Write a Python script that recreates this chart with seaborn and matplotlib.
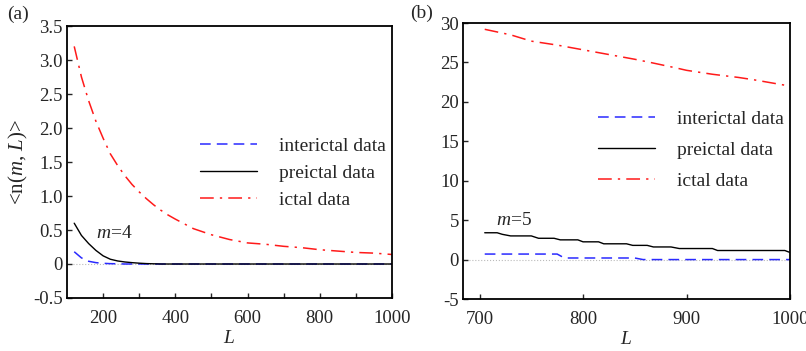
import numpy as np
import pandas as pd
import matplotlib
matplotlib.use("Agg")
import matplotlib.pyplot as plt
import seaborn as sns

# ---------------- data ----------------
# panel (a), m = 4
L_a = [120, 140, 160, 180, 200, 220, 240, 260, 280, 300, 320, 340, 360, 380, 400,
       450, 500, 550, 600, 650, 700, 750, 800, 850, 900, 950, 1000]
ictal_a = [3.20, 2.75, 2.40, 2.10, 1.85, 1.62, 1.45, 1.30, 1.17, 1.06, 0.96, 0.87, 0.79, 0.72, 0.66,
           0.52, 0.43, 0.36, 0.31, 0.29, 0.26, 0.24, 0.21, 0.19, 0.17, 0.16, 0.14]
preictal_a = [0.60, 0.42, 0.30, 0.20, 0.12, 0.07, 0.045, 0.03, 0.02, 0.012, 0.006, 0.003, 0.0, 0.0, 0.0,
              0.0, 0.0, 0.0, 0.0, 0.0, 0.0, 0.0, 0.0, 0.0, 0.0, 0.0, 0.0]
interictal_a = [0.18, 0.09, 0.04, 0.02, 0.01, 0.005, 0.003, 0.0, 0.0, 0.0, 0.0, 0.0, 0.0, 0.0, 0.0,
                0.0, 0.0, 0.0, 0.0, 0.0, 0.0, 0.0, 0.0, 0.0, 0.0, 0.0, 0.0]

# panel (b), m = 5
L_b_ictal = [705, 730, 750, 775, 800, 825, 850, 865, 890, 900, 925, 950, 965, 1000]
ictal_b = [29.2, 28.5, 27.7, 27.2, 26.6, 26.0, 25.4, 25.0, 24.3, 24.0, 23.5, 23.1, 22.8, 22.0]
L_b_pre = [705, 717, 722, 730, 750, 757, 772, 778, 795, 800, 815, 820, 842, 848, 862, 868,
           885, 893, 925, 930, 995, 1000]
preictal_b = [3.4, 3.4, 3.2, 3.0, 3.0, 2.7, 2.7, 2.5, 2.5, 2.25, 2.25, 2.0, 2.0, 1.8, 1.8, 1.6,
              1.6, 1.4, 1.4, 1.15, 1.15, 0.9]
L_b_inter = [705, 775, 782, 850, 858, 1000]
interictal_b = [0.7, 0.7, 0.2, 0.2, 0.0, 0.0]

labels = ["interictal data", "preictal data", "ictal data"]
yticks_a = [-0.5, 0, 0.5, 1.0, 1.5, 2.0, 2.5, 3.0, 3.5]
yticklabels_a = ["-0.5", "0", "0.5", "1.0", "1.5", "2.0", "2.5", "3.0", "3.5"]
xticks_a = [200, 400, 600, 800, 1000]
yticks_b = [-5, 0, 5, 10, 15, 20, 25, 30]
xticks_b = [700, 800, 900, 1000]

# ---------------- style ----------------
sns.set_style("ticks")
plt.rcParams["font.family"] = ["Liberation Serif", "DejaVu Serif"]
plt.rcParams["mathtext.fontset"] = "custom"
plt.rcParams["mathtext.rm"] = "Liberation Serif"
plt.rcParams["mathtext.it"] = "Liberation Serif:italic"
plt.rcParams["axes.unicode_minus"] = False

FS = 14
TFS = 13.5
blue = "#2a2aff"
red = "#ff1a1a"
dash_b = (0, (7, 4))
dash_r = (0, (9, 4, 1.5, 4))

fig = plt.figure(figsize=(8.06, 3.51), dpi=100)
axa = fig.add_axes([67/806, 1-298/351, 325/806, 272/351])
axb = fig.add_axes([463/806, 1-299/351, 327/806, 276/351])

def style_axes(ax):
    for s in ax.spines.values():
        s.set_visible(True)
        s.set_linewidth(1.3)
        s.set_color("black")
    ax.tick_params(direction="in", length=3.5, width=1, labelsize=TFS, top=False, right=False)
    ax.tick_params(axis="x", pad=8.5)
    ax.tick_params(axis="y", pad=3)
    ax.tick_params(which="minor", direction="in", length=3.5, width=1)

# ---- panel (a)
da = pd.DataFrame({"L": L_a, "inter": interictal_a, "pre": preictal_a, "ictal": ictal_a})
axa.axhline(0, color="#bbbbbb", lw=0.8, ls=":", zorder=0)
sns.lineplot(data=da, x="L", y="inter", ax=axa, color=blue, lw=1.1, linestyle=dash_b, label=labels[0])
sns.lineplot(data=da, x="L", y="pre", ax=axa, color="black", lw=1.0, label=labels[1])
sns.lineplot(data=da, x="L", y="ictal", ax=axa, color=red, lw=1.1, linestyle=dash_r, label=labels[2])
axa.set_xlim(100, 1000)
axa.set_ylim(-0.5, 3.5)
axa.set_xticks(xticks_a)
axa.set_xticks([300, 500, 700, 900], minor=True)
axa.set_yticks(yticks_a)
axa.set_yticklabels(yticklabels_a)
style_axes(axa)
axa.set_xlabel(r"$\mathit{L}$", fontsize=FS, labelpad=2.5)
axa.set_ylabel(r"<n($\mathit{m}$, $\mathit{L}$)>", fontsize=15, labelpad=2)
axa.text(180, 0.45, r"$\mathit{m}$=4", fontsize=FS, ha="left", va="center")
axa.legend(loc="upper left", bbox_to_anchor=(200/806, 1-137/351), bbox_transform=fig.transFigure,
           frameon=False, fontsize=FS, handlelength=2.95, handletextpad=1.1, labelspacing=0.5,
           borderpad=0, borderaxespad=0)

# ---- panel (b)
axb.axhline(0, color="#bbbbbb", lw=0.8, ls=":", zorder=0)
sns.lineplot(x=L_b_inter, y=interictal_b, ax=axb, color=blue, lw=1.1, linestyle=dash_b, label=labels[0])
sns.lineplot(x=L_b_pre, y=preictal_b, ax=axb, color="black", lw=1.0, label=labels[1])
sns.lineplot(x=L_b_ictal, y=ictal_b, ax=axb, color=red, lw=1.1, linestyle=dash_r, label=labels[2])
axb.set_xlim(684, 1000)
axb.set_ylim(-5, 30)
axb.set_xticks(xticks_b)
axb.set_yticks(yticks_b)
style_axes(axb)
axb.set_xlabel(r"$\mathit{L}$", fontsize=FS, labelpad=2.5)
axb.set_ylabel("")
axb.text(716, 4.9, r"$\mathit{m}$=5", fontsize=FS, ha="left", va="center")
axb.legend(loc="upper left", bbox_to_anchor=(598/806, 1-110/351), bbox_transform=fig.transFigure,
           frameon=False, fontsize=FS, handlelength=2.95, handletextpad=1.1, labelspacing=0.7,
           borderpad=0, borderaxespad=0)

fig.text(7/806, 1-14/351, "(a)", fontsize=FS, ha="left", va="center")
fig.text(410/806, 1-13/351, "(b)", fontsize=FS, ha="left", va="center")

fig.savefig("out.png", dpi=100)
